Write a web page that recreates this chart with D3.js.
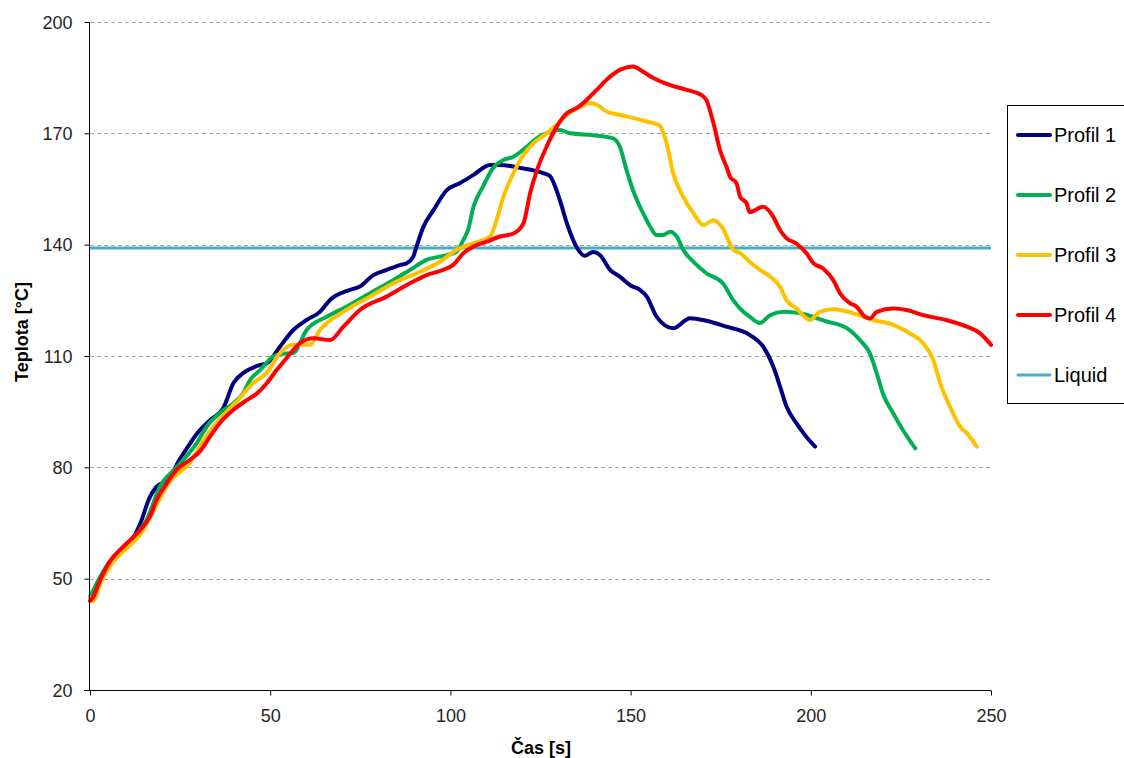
<!DOCTYPE html>
<html>
<head>
<meta charset="utf-8">
<script src="https://cdn.jsdelivr.net/npm/d3@7"></script>
<style>
  body { margin: 0; background: #fff; overflow: hidden; }
  svg { display: block; font-family: Arial, 'Liberation Sans', sans-serif; }
  .grid line { stroke: #a6a6a6; stroke-dasharray: 4 3; }
  .axis text { font-size: 18px; fill: #262626; }
  .axis path, .axis line { stroke: #000; }
  .title { font-size: 18px; font-weight: bold; fill: #000; }
</style>
</head>
<body>
<svg id="chart" width="1124" height="758"></svg>
<script>
// time [s] and temperature [°C]
const p1Time = [0,2,5,9,12,14,16.6,18.5,22.2,24,26.8,29.6,33.3,37,39.8,42.5,47.2,49,52.7,56.4,60.1,63.8,66.6,72.1,74.9,78.6,82.3,86,87.9,89.7,90.6,92.5,95.3,99,102.7,106.4,111,113.8,119.3,125.7,127.6,130.4,132.3,135,137.3,139.6,141.5,144.3,147,150,152.6,154.5,157.2,161.8,166.5,171,176.6,183,186.8,189.6,191.5,193.3,196,198.8,201.2]
const p1Temp = [45,48,53,58,61,65,72,74.8,77,80.6,85,89,92.7,96,102.7,105.4,107.6,108,112.5,117,119.7,121.9,125.1,127.8,128.7,131.8,133.2,134.5,135,136.8,139.5,144.8,149.3,154.7,156.6,158.8,161.5,161.5,160.7,159.3,158.5,151.9,145.8,139.4,137,138,137.2,133.2,131.4,129,127.8,126,120.6,117.5,120.2,119.5,117.9,115.7,112.5,107.1,101.7,96.3,91.9,88.2,85.6]

const p2Time = [0,2,5,9,12,15.7,19.4,24,29.6,32.4,36,39.8,42.5,44.4,47.2,50.8,52.7,56.4,60.1,65.7,71.2,77.7,84.2,88.8,93.4,99,101.7,103.6,104.9,106.4,109,111.8,114.7,117.5,121.2,124,127.6,130.4,133.2,139.6,145,147,148.9,150.7,153.5,155.4,157.2,159,161,162.8,164.6,167.4,171,175.6,178.5,181.3,183,185.9,188.7,192.4,197,204.4,210,213.6,216.4,218.3,220,222.9,225.6,229]
const p2Temp = [45,49,54,58,61,65.8,74.8,80,86.5,91,94.6,97.3,100,103.5,106.2,109.9,110.5,110.8,117,120.6,123.3,126.9,130.5,133.2,135.9,137.2,138.1,141.3,144,150.2,155.6,160.6,162.8,163.7,166.4,168.7,170.4,170.9,170,169.5,168.7,166.4,160,154.6,148.4,144.9,142.6,142.6,143.5,142.2,138.6,135.4,132.3,129.6,125,121.9,120.6,118.9,121,121.9,121.5,119.3,117.5,114.3,110.7,105.3,99.9,94.5,90,85.1]

const p3Time = [0,0.8,3,6,10,14,18,22,27.7,32,36,40,45.3,49,52.7,56.4,61,63.8,70.3,77.7,84.2,91.6,97.1,101.7,106.4,111,112.8,114.7,117.5,120.3,123,126.7,129.5,132.3,136,138.7,140.6,143.3,147,154.5,158,160,161.8,164.6,167.4,170.2,173,175.6,178.5,180.4,183,185.9,188.7,191.5,193.3,196,199.8,202.5,206.2,211.8,217.3,222.9,227.5,231.2,234,235.9,238.6,241.4,243.3,246]
const p3Temp = [45,44,49,54,58,62,69,76,81.2,88,93,97,102.7,105.4,110.8,113,113,117,121.9,126,129.6,132.7,135.4,138.6,140.4,142.2,146.6,152.9,159.3,164.2,167.3,170,172.3,175,177.1,178.2,177.7,175.9,175,173.2,172.2,167.3,159.3,152.9,148.5,145.3,146.6,144.4,138.6,137.7,135.4,133.2,131.4,128.6,125,122.8,119.7,121.9,122.6,121.5,119.7,118.4,116.1,113.4,108.9,102.6,96.4,91,89.2,85.6]

const p4Time = [0,0.9,2.8,5.5,9.2,13.9,16.6,18.5,21.3,24,27.7,30.5,33.3,36,39.8,43.5,46.3,49,51.8,54.5,58.3,62,66.6,70.3,74.9,82.3,88.8,93.4,98,100.7,103.6,106.4,110,113.8,117.5,120.3,122.1,124,126.7,129.5,132.3,135,137.8,140.6,143.3,147,150.7,153.5,156.3,161,165.6,169.7,171,173,174.8,176.6,177.6,179.4,180.4,182.2,183,186.8,189.6,191.5,193.3,196,198.8,200.7,203.4,206.2,208.1,210.9,212.7,214.6,216.4,218.3,222.9,226.6,231.2,237.5,243.3,247,250]
const p4Temp = [44,45.1,49.6,54.6,58.6,63.1,66.7,71.2,75.7,79.3,82,84.3,88.3,91.9,95.5,98.1,99.9,102.6,106.2,109.4,113.5,114.8,114.3,117.9,122.4,126,129.6,131.8,133.2,134.5,137.7,139.5,140.8,142.2,143,145.8,153.8,160,166.4,171.8,175.4,176.8,179,181.7,184.4,187.1,188,186.6,184.9,183,181.7,180.3,179,172.7,165.5,161,158.3,156.5,152.9,151.1,148.8,150.2,147.5,143.9,141.7,140.3,137.7,135,133.6,130.5,126.9,124.2,123.3,121,120.1,121.9,122.8,122.4,121,119.7,117.9,116.1,113]

const liquidTemp = 139.1

const seriesNames = ['Profil 1', 'Profil 2', 'Profil 3', 'Profil 4', 'Liquid']
const seriesColors = ['#000080', '#00b050', '#ffc000', '#ff0000', '#4bacc6']

const xTicks = [0, 50, 100, 150, 200, 250]
const yTicks = [20, 50, 80, 110, 140, 170, 200]

const settings = {
  left: 90, right: 991, top: 22, bottom: 690
}

const svg = d3.select('#chart')

const x = d3.scaleLinear().domain([0, 250]).range([settings.left, settings.right])
const y = d3.scaleLinear().domain([20, 200]).range([settings.bottom, settings.top])

// dashed grid
svg.append('g')
    .attr('class', 'grid')
  .selectAll('line').data(yTicks.slice(1))
  .enter().append('line')
    .attr('x1', settings.left)
    .attr('x2', settings.right)
    .attr('y1', d => Math.round(y(d)) + 0.5)
    .attr('y2', d => Math.round(y(d)) + 0.5)

const profiles = [
  [p1Time, p1Temp],
  [p2Time, p2Temp],
  [p3Time, p3Temp],
  [p4Time, p4Temp]
].map(([t, v]) => t.map((d, i) => ({ t: d, v: v[i] })))

const line = d3.line()
  .x(d => x(d.t))
  .y(d => y(d.v))
  .curve(d3.curveMonotoneX)

const plot = svg.append('g').attr('class', 'plot')

// liquid line under the profiles
plot.append('line')
  .attr('x1', x(0))
  .attr('x2', x(250))
  .attr('y1', y(liquidTemp))
  .attr('y2', y(liquidTemp))
  .attr('stroke', seriesColors[4])
  .attr('stroke-width', 3)

plot.selectAll('path.profile').data(profiles)
  .enter().append('path')
    .attr('class', 'profile')
    .attr('d', line)
    .attr('fill', 'none')
    .attr('stroke', (d, i) => seriesColors[i])
    .attr('stroke-width', 4)
    .attr('stroke-linejoin', 'round')
    .attr('stroke-linecap', 'round')

// axes
svg.append('g')
    .attr('class', 'axis')
    .attr('transform', `translate(${settings.left - 0.5},0)`)
    .call(d3.axisLeft(y).tickValues(yTicks).tickSize(5).tickSizeOuter(0).tickPadding(12))
    .call(g => g.select('.domain').attr('d', `M0,${settings.top}V${settings.bottom + 1}`))
    .selectAll('text').attr('dy', '0.35em')

svg.append('g')
    .attr('class', 'axis')
    .attr('transform', `translate(0,${settings.bottom + 0.5})`)
    .call(d3.axisBottom(x).tickValues(xTicks).tickSize(5).tickSizeOuter(0).tickPadding(10))
    .call(g => g.select('.domain').attr('d', `M${settings.left - 6},0H${settings.right}`))
    .selectAll('text').attr('dy', '0.9em')

svg.append('text')
  .attr('class', 'title')
  .attr('text-anchor', 'middle')
  .attr('transform', 'translate(28,332) rotate(-90)')
  .text('Teplota [°C]')

svg.append('text')
  .attr('class', 'title')
  .attr('text-anchor', 'middle')
  .attr('x', 541)
  .attr('y', 754)
  .text('Čas [s]')

// legend
const legend = svg.append('g').attr('class', 'legend')

legend.append('rect')
  .attr('x', 1007.5)
  .attr('y', 105.5)
  .attr('width', 140)
  .attr('height', 298)
  .attr('fill', '#fff')
  .attr('stroke', '#000')

const legendRows = legend.selectAll('g.row').data(seriesNames)
  .enter().append('g')
    .attr('class', 'row')
    .attr('transform', (d, i) => `translate(1018,${135 + i * 60})`)

legendRows.append('line')
  .attr('x1', 0)
  .attr('x2', 32)
  .attr('stroke', (d, i) => seriesColors[i])
  .attr('stroke-width', (d, i) => i < 4 ? 4 : 3)
  .attr('stroke-linecap', 'round')

legendRows.append('text')
  .attr('x', 36)
  .attr('dy', '0.36em')
  .attr('font-size', 20)
  .attr('fill', '#000')
  .text(d => d)
</script>
</body>
</html>
